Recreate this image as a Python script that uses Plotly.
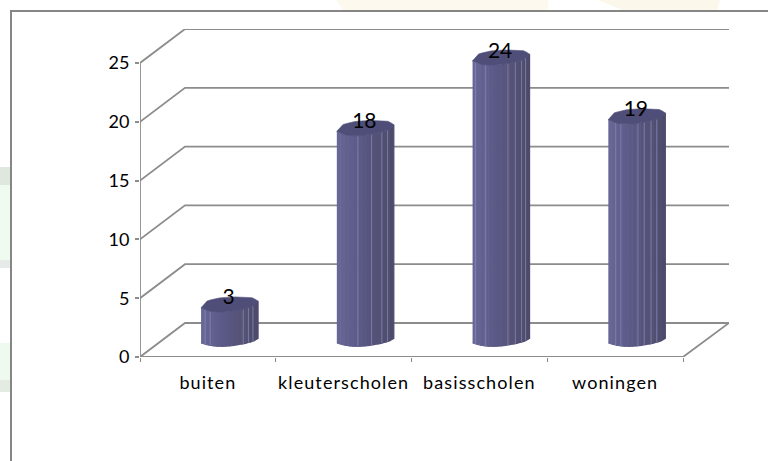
import numpy as np
import plotly.graph_objects as go

# ---------- data ----------
categories = ["buiten", "kleuterscholen", "basisscholen", "woningen"]
values = [3, 18, 24, 19]
y_ticks = [0, 5, 10, 15, 20, 25]
highlights = [
    [0.07, 0.16, 0.74, 0.83, 0.91],
    [0.37, 0.61, 0.79, 0.89],
    [0.05, 0.23, 0.62, 0.75, 0.86, 0.93],
    [0.13, 0.22, 0.52, 0.63, 0.75, 0.85],
]

# ---------- layout geometry (pixels) ----------
W, H = 768, 461
X0, X_END = 140.0, 729.0   # plot area left / right
Y0, Y_TOP = 357.0, 29.0    # plot area bottom / top
PX_X = 135.75              # pixels per category
PX_Y = 11.76               # pixels per value unit
DEPTH_X, DEPTH_Y = 45 / PX_X, 34 / PX_Y
x_range = [0, (X_END - X0) / PX_X]
y_range = [0, (Y0 - Y_TOP) / PX_Y]

GREY = "#8c8c8c"
FONT = "Lato, Calibri, Carlito, sans-serif"


def paper(px, py):
    return (px - X0) / (X_END - X0), (Y0 - py) / (Y0 - Y_TOP)


def rect(x0, y0, x1, y1, color, line=None):
    a, b = paper(x0, y0)
    c, d = paper(x1, y1)
    return dict(type="rect", xref="paper", yref="paper", x0=a, y0=b, x1=c, y1=d,
                fillcolor=color, line=line or dict(width=0), layer="below")


def blob(points, color):
    path = ""
    for i, (px, py) in enumerate(points):
        a, b = paper(px, py)
        path += ("M" if i == 0 else "L") + f"{a:.5f},{b:.5f} "
    return dict(type="path", xref="paper", yref="paper", path=path + "Z",
                fillcolor=color, line=dict(width=0), layer="below")


shapes = [
    rect(0, 167, 11, 185, "#dfe8df"),
    rect(0, 185, 11, 260, "#eefbee"),
    rect(0, 260, 11, 268, "#e6ebe8"),
    rect(0, 343, 11, 380, "#eefaee"),
    rect(0, 380, 11, 392, "#e3ebe3"),
    blob([(336, 0), (548, 0), (548, 11), (344, 11)], "#fdf9ef"),
    blob([(598, 0), (720, 0), (717, 11), (625, 11)], "#fbf7ea"),
    rect(11, 11, W + 10, H + 10, "#ffffff", dict(color="#868686", width=2)),
]

fig = go.Figure()


def line(xs, ys, color=GREY, width=1.8):
    fig.add_trace(go.Scatter(x=xs, y=ys, mode="lines", hoverinfo="skip",
                             line=dict(color=color, width=width)))


# ---------- walls, floor and axis lines ----------
back_right = x_range[1]
for v in y_ticks:
    line([0, DEPTH_X, back_right], [v, v + DEPTH_Y, v + DEPTH_Y])
line([0, 0], [0, y_ticks[-1]])
line([0, len(categories), back_right], [0, 0, DEPTH_Y])

# ---------- lobed cylinders (outline offsets: fraction of width, px from left corner) ----------
BAR_W = 57 / PX_X
BASE_LIFT = 14 / PX_Y
BAR_SHIFT = 21.7 / PX_X
front_f = [0, 0.16, 0.33, 0.51, 0.74, 0.91, 1.0]
front_d = [0, 3.7, 4.7, 4.0, 1.7, -1.6, -6.6]
base_d = [0, 2.5, 3.5, 3.0, 0.8, -1.6, -4.5]
back_f = [0, 0.10, 0.25, 0.51, 0.91, 1.0]
back_d = [0, -6.6, -9.3, -11, -10, -6.6]
ramp_f = [0, 0.08, 0.45, 0.75, 1.0]
ramp_c = [(106, 105, 154), (101, 100, 148), (90, 88, 132), (83, 81, 116), (76, 74, 106)]


def ramp(f):
    return "rgb(%d,%d,%d)" % tuple(np.interp(f, ramp_f, [c[k] for c in ramp_c]) for k in range(3))


def prof(f):
    return np.interp(f, front_f, front_d) / PX_Y


def base(f):
    return np.interp(f, front_f, base_d) / PX_Y


for i, v in enumerate(values):
    left = i + 0.5 + BAR_SHIFT - BAR_W / 2
    edges = np.linspace(0, 1, 15)
    for a, b in zip(edges[:-1], edges[1:]):
        sub = np.linspace(a, b, 4)
        xs = left + sub * BAR_W
        top = v + BASE_LIFT - prof(sub)
        bot = BASE_LIFT - base(sub)
        fig.add_trace(go.Scatter(
            x=np.r_[xs, xs[::-1]], y=np.r_[top, bot[::-1]], mode="lines", fill="toself",
            fillcolor=ramp((a + b) / 2), line=dict(width=1.2, color=ramp((a + b) / 2)),
            hoverinfo="skip"))
    for f in highlights[i]:
        x = left + f * BAR_W
        line([x, x], [v + BASE_LIFT - prof(f), BASE_LIFT - base(f)], "#8786b4", 0.8)
    # top face
    ff = np.linspace(0, 1, 20)
    x_top = np.r_[ff, ff[::-1]]
    d_top = np.r_[np.interp(ff, back_f, back_d), np.interp(ff[::-1], front_f, front_d)]
    fig.add_trace(go.Scatter(
        x=left + x_top * BAR_W, y=v + BASE_LIFT - d_top / PX_Y, mode="lines", fill="toself",
        fillcolor="#4f4e78", line=dict(width=0.6, color="#55547e"), hoverinfo="skip"))

# ---------- data labels ----------
fig.add_trace(go.Scatter(
    x=[i + 0.5 + BAR_SHIFT - 1 / PX_X for i in range(len(values))],
    y=[v + 22.5 / PX_Y for v in values],
    mode="text", text=[str(v) for v in values], textposition="middle center",
    textfont=dict(family=FONT, size=21, color="#000000"), hoverinfo="skip"))

fig.update_layout(
    width=W, height=H, showlegend=False, autosize=False,
    margin=dict(l=X0, r=W - X_END, t=Y_TOP, b=H - Y0, pad=0),
    paper_bgcolor="#ffffff", plot_bgcolor="rgba(0,0,0,0)",
    font=dict(family=FONT, color="#000000"),
    shapes=shapes,
    xaxis=dict(
        range=x_range, showgrid=False, zeroline=False, showline=False,
        tickmode="array", tickvals=[i + 0.5 for i in range(len(categories))],
        ticktext=categories, ticks="outside", ticklen=9, tickcolor="rgba(0,0,0,0)",
        tickfont=dict(family=FONT, size=18, color="#000000"),
        minor=dict(tickmode="array", tickvals=list(range(len(categories) + 1)),
                   ticks="outside", ticklen=4, tickcolor=GREY, tickwidth=1, showgrid=False),
    ),
    yaxis=dict(
        range=y_range, showgrid=False, zeroline=False, showline=False,
        tickmode="array", tickvals=y_ticks, ticks="outside", ticklen=4,
        tickcolor=GREY, tickwidth=1.5, ticklabelstandoff=2,
        tickfont=dict(family=FONT, size=18, color="#000000"),
    ),
)

page_style = """
var s = document.createElement('style');
s.textContent = 'html, body { margin: 0; padding: 0; overflow: hidden; background: #fff; } .xtick text { letter-spacing: 1.1px; }';
document.head.appendChild(s);
"""
fig.write_html("out.html", post_script=page_style, config={"displayModeBar": False})
